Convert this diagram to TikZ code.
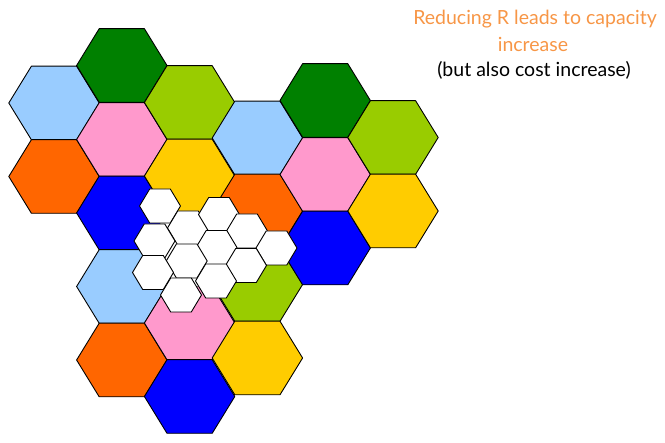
\documentclass[tikz,border=0pt]{standalone}
\usepackage{fontspec}
\setmainfont{Lato}
\usepackage{tikz}
\usetikzlibrary{positioning}

\definecolor{dkgreen}{HTML}{008000}
\definecolor{ltgreen}{HTML}{99CC00}
\definecolor{ltblue}{HTML}{99CCFF}
\definecolor{pinkcell}{HTML}{FF99CC}
\definecolor{orangecell}{HTML}{FF6600}
\definecolor{yellowcell}{HTML}{FFCC00}
\definecolor{bluecell}{HTML}{0000FF}
\definecolor{titleorange}{HTML}{F79646}

\begin{document}
\begin{tikzpicture}[x=1pt, y=-1pt,
        cell/.style={draw=black, line width=0.9pt, line join=round},
        title/.style={text=titleorange, font=\fontsize{19.5}{22}\selectfont, inner sep=0pt, anchor=base},
        remark/.style={text=black, font=\fontsize{19.5}{22}\selectfont, inner sep=0pt, anchor=base}]
        \useasboundingbox (0,0) rectangle (665,443);

        % large cells
        \foreach \cx/\cy/\col in {54/103/ltblue, 54/176.5/orangecell,
                121.8/65.5/dkgreen, 121.8/139.5/pinkcell, 121.8/213/bluecell, 121.8/286.5/ltblue, 121.8/360/orangecell,
                189.6/102.5/ltgreen, 189.6/176/yellowcell, 189.6/323/pinkcell, 189.6/396.5/bluecell,
                257.4/138/ltblue, 257.4/211/orangecell, 257.4/284.5/ltgreen, 257.4/358/yellowcell,
                325.2/100.5/dkgreen, 325.2/174.5/pinkcell, 325.2/248/bluecell,
                393/137.5/ltgreen, 393/211/yellowcell}
            \draw[cell, fill=\col] (\cx-45.2,\cy) -- (\cx-22.6,\cy-36.8) -- (\cx+22.6,\cy-36.8)
                -- (\cx+45.2,\cy) -- (\cx+22.6,\cy+36.8) -- (\cx-22.6,\cy+36.8) -- cycle;
        % the split cell
        \fill[white] (189.6-45.2,249.5) -- (189.6-22.6,249.5-36.8) -- (189.6+22.6,249.5-36.8)
            -- (189.6+45.2,249.5) -- (189.6+22.6,249.5+36.8) -- (189.6-22.6,249.5+36.8) -- cycle;

        % small cells
        \foreach \cx/\cy in {160/206, 188/228, 219/214.5, 247/231, 276.5/248, 154.5/241,
                216.5/247.5, 186.7/261, 246/265.5, 153/272.5, 216/281, 181/295}
            \draw[cell, fill=white] (\cx-20.5,\cy) -- (\cx-10.3,\cy-17) -- (\cx+10.3,\cy-17)
                -- (\cx+20.5,\cy) -- (\cx+10.3,\cy+17) -- (\cx-10.3,\cy+17) -- cycle;

        \node[title] (reduce) at (535,25) {Reducing R leads to capacity};
        \node[title] (increase) at (533,51.5) {increase};
        \node[remark] (cost) at (534,76.5) {(but also cost increase)};
    \end{tikzpicture}
\end{document}
